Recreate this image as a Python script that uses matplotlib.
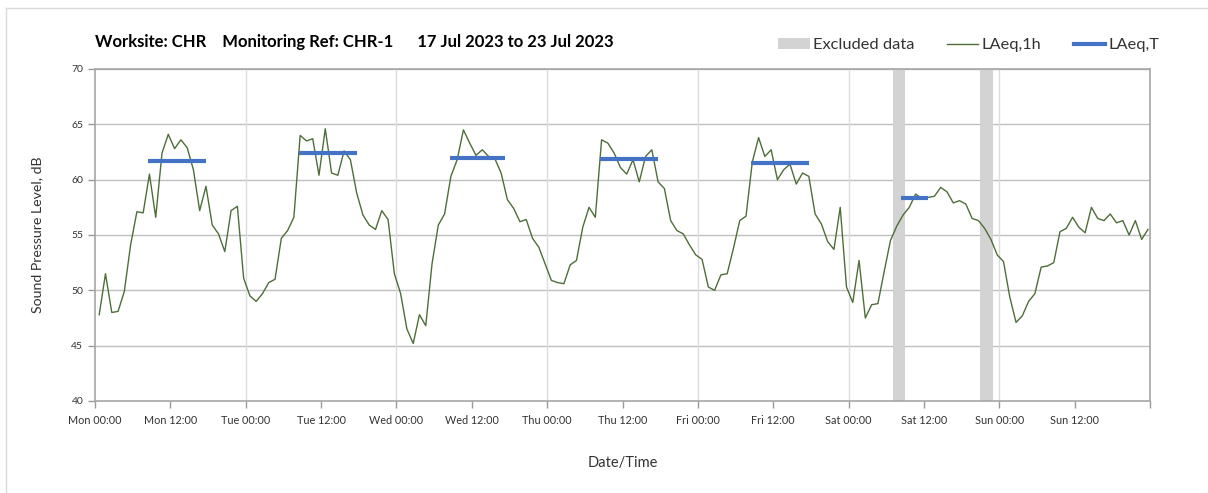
import numpy as np
import matplotlib
matplotlib.use('Agg')
import matplotlib.pyplot as plt
from matplotlib.patches import Patch
from matplotlib.lines import Line2D

plt.rcParams['font.family'] = ['Lato', 'DejaVu Sans']

# hourly LAeq,1h values from Mon 00:00 (one per hour)
laeq_1h = [
    47.8, 51.5, 48.0, 48.1, 49.9, 54.1, 57.1, 57.0, 60.5, 56.6, 62.4, 64.1,
    62.8, 63.6, 62.9, 60.9, 57.2, 59.4, 55.9, 55.1, 53.5, 57.2, 57.6, 51.1,
    49.5, 49.0, 49.7, 50.7, 51.0, 54.7, 55.4, 56.6, 64.0, 63.5, 63.7, 60.4,
    64.6, 60.6, 60.4, 62.6, 61.8, 58.8, 56.8, 55.9, 55.5, 57.2, 56.4, 51.5,
    49.7, 46.5, 45.2, 47.8, 46.8, 52.4, 55.9, 56.9, 60.3, 61.8, 64.5, 63.3,
    62.2, 62.7, 62.1, 61.9, 60.6, 58.2, 57.4, 56.2, 56.4, 54.7, 53.9, 52.4,
    50.9, 50.7, 50.6, 52.3, 52.7, 55.7, 57.5, 56.6, 63.6, 63.3, 62.4, 61.1,
    60.5, 61.8, 59.8, 62.1, 62.7, 59.8, 59.2, 56.3, 55.4, 55.1, 54.1, 53.2,
    52.8, 50.3, 50.0, 51.4, 51.5, 53.8, 56.3, 56.7, 61.6, 63.8, 62.1, 62.7,
    60.0, 60.9, 61.4, 59.6, 60.6, 60.3, 56.9, 56.0, 54.4, 53.7, 57.5, 50.3,
    48.9, 52.7, 47.5, 48.7, 48.8, 51.7, 54.5, 55.8, 56.8, 57.5, 58.7, 58.3,
    58.4, 58.5, 59.3, 58.9, 57.9, 58.1, 57.8, 56.5, 56.3, 55.6, 54.6, 53.2,
    52.6, 49.4, 47.1, 47.7, 49.0, 49.7, 52.1, 52.2, 52.5, 55.3, 55.6, 56.6,
    55.7, 55.2, 57.5, 56.5, 56.3, 56.9, 56.1, 56.3, 55.0, 56.3, 54.6, 55.5,
]
hours = np.arange(len(laeq_1h)) + 0.67

# LAeq,T periods (start hour, end hour, level)
period_start = [8.5, 32.5, 56.5, 80.4, 104.5, 128.4]
period_end = [17.7, 41.8, 65.3, 89.7, 113.7, 132.7]
period_level = [61.7, 62.4, 62.0, 61.9, 61.5, 58.3]

# excluded data (start hour, end hour)
excl_start = [127.0, 141.0]
excl_end = [129.0, 143.0]

tick_labels = ['Mon 00:00', 'Mon 12:00', 'Tue 00:00', 'Tue 12:00', 'Wed 00:00',
               'Wed 12:00', 'Thu 00:00', 'Thu 12:00', 'Fri 00:00', 'Fri 12:00',
               'Sat 00:00', 'Sat 12:00', 'Sun 00:00', 'Sun 12:00', '']

fig = plt.figure(figsize=(12.08, 4.93), dpi=100)
ax = fig.add_axes([95 / 1208, 1 - 401 / 493, 1055 / 1208, 332 / 493])

for s, e in zip(excl_start, excl_end):
    ax.axvspan(s, e, color='#d3d3d3', lw=0, zorder=1)

ax.plot(hours, laeq_1h, color='#4e6e38', lw=1.0, zorder=3)
ax.hlines(period_level, period_start, period_end, color='#4472c4', lw=3, zorder=4)

ax.set_xlim(0, 168)
ax.set_ylim(40, 70)
ax.set_xticks(np.arange(0, 169, 12))
ax.set_xticklabels(tick_labels, fontsize=7.8, color='#333333')
ax.set_yticks(np.arange(40, 71, 5))
ax.set_yticklabels([str(v) for v in range(40, 71, 5)], fontsize=7.5, color='#333333')
ax.tick_params(axis='both', direction='out', length=5, color='#999999', width=1)
ax.tick_params(axis='x', pad=5)

# grid: horizontal every 5 dB, vertical every 24 h
for y in range(45, 71, 5):
    ax.axhline(y, color='#bfbfbf', lw=1, zorder=0)
for x in range(24, 168, 24):
    ax.axvline(x, color='#dcdcdc', lw=1, zorder=0)

for side in ['left', 'bottom', 'right', 'top']:
    ax.spines[side].set_color('#a6a6a6')
    ax.spines[side].set_linewidth(1.2)

ax.set_ylabel('Sound Pressure Level, dB', fontsize=10.2, color='#333333', labelpad=20)
ax.set_xlabel('Date/Time', fontsize=10.5, color='#333333', labelpad=22)

fig.text(95 / 1208, 1 - 42 / 493,
         'Worksite: CHR    Monitoring Ref: CHR-1      17 Jul 2023 to 23 Jul 2023',
         fontsize=12, fontweight='bold', va='center', ha='left', color='black')

handles = [Patch(facecolor='#d3d3d3', edgecolor='none'),
           Line2D([], [], color='#4e6e38', lw=1),
           Line2D([], [], color='#4472c4', lw=3)]
fig.legend(handles, ['Excluded data', 'LAeq,1h', 'LAeq,T'], loc='center right',
           bbox_to_anchor=(0.972, 1 - 45 / 493), ncol=3, frameon=False,
           fontsize=11.8, handlelength=1.9, handletextpad=0.2, columnspacing=2.0,
           labelcolor='#333333')

# chart area border (left and top)
fig.add_artist(Line2D([5.5 / 1208, 5.5 / 1208], [0, 1 - 8 / 493], color='#d9d9d9', lw=1))
fig.add_artist(Line2D([5.5 / 1208, 1], [1 - 8 / 493, 1 - 8 / 493], color='#d9d9d9', lw=1))

fig.savefig('out.png', dpi=100)
